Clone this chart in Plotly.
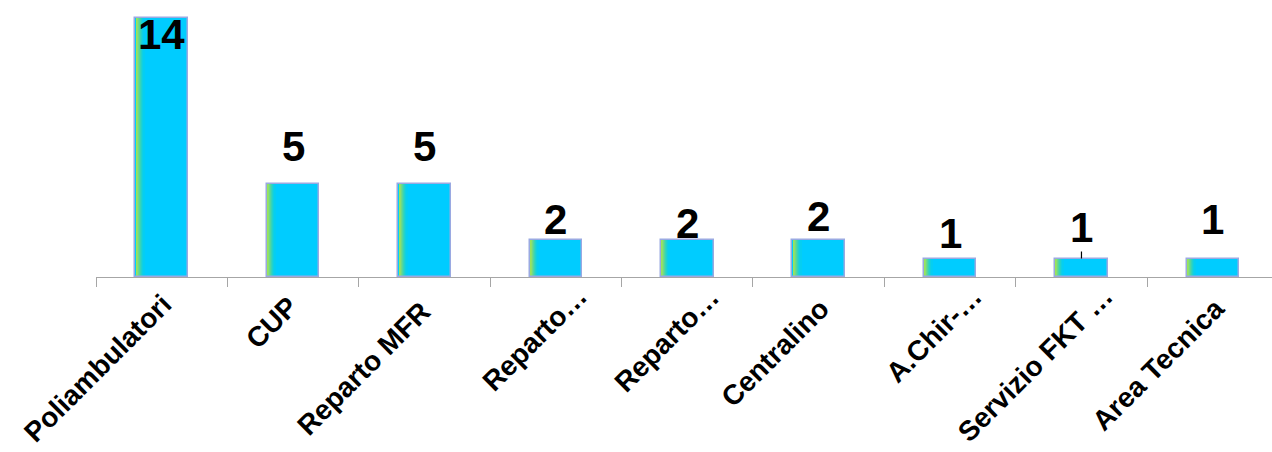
import plotly.graph_objects as go

categories = ["Poliambulatori", "CUP", "Reparto MFR", "Reparto…", "Reparto…",
              "Centralino", "A.Chir-…", "Servizio FKT …", "Area Tecnica"]
values = [14, 5, 5, 2, 2, 2, 1, 1, 1]

# styling: value-label offsets (px above bar top) and leader-line flags
label_offsets = [-17, 38, 38, 20, 16, 23, 25.5, 31, 39]
leader = [False, False, False, False, False, False, False, True, False]
# styling: category-label end position relative to the category centre on the axis (px)
cat_dx = [5, 0, 1.5, 27, 27.5, 5, 27, 26.5, 7]
cat_dy = [24, 25, 31, 15, 16, 28, 15, 16, 27]

x = list(range(len(categories)))
BAR_W = 0.40
CYAN = "#00CCFF"
BORDER = "#9AA9E2"
FONT = "Liberation Sans, Arial"

fig = go.Figure()
# main cyan bars
fig.add_trace(go.Bar(x=x, y=values, width=BAR_W, marker=dict(color=CYAN, line=dict(width=0)),
                     hoverinfo="skip"))
# gradient strips on the left side (green -> cyan)
grad = ["#9BE35A", "#8EE06A", "#6FDA86", "#52D79E", "#38D4B6", "#22D2CC", "#10D0E2", "#05CEF2"]
px_unit = BAR_W / 52.6
for k, c in enumerate(grad):
    fig.add_trace(go.Bar(x=x, y=values, width=px_unit * 1.05,
                         offset=-BAR_W / 2 + px_unit * (0.8 + k),
                         marker=dict(color=c, line=dict(width=0)), hoverinfo="skip"))
# border layer
fig.add_trace(go.Bar(x=x, y=values, width=BAR_W,
                     marker=dict(color="rgba(0,0,0,0)", line=dict(color=BORDER, width=1.5)),
                     hoverinfo="skip"))

for xi, v, off, ld in zip(x, values, label_offsets, leader):
    fig.add_annotation(x=xi, y=v, text=str(v), showarrow=True, ax=0, ay=-off,
                       axref="pixel", ayref="pixel",
                       arrowhead=0, arrowwidth=1.2,
                       arrowcolor="black" if ld else "rgba(0,0,0,0)",
                       standoff=0, startstandoff=0,
                       font=dict(family=FONT, size=42, color="black", weight="bold"),
                       xanchor="center", yanchor="middle", borderpad=0)

# category labels (rotated)
for xi, name, dx, dy in zip(x, categories, cat_dx, cat_dy):
    fig.add_annotation(x=xi, y=0, xref="x", yref="y", text=name, showarrow=False,
                       textangle=-45, xanchor="right", yanchor="top",
                       xshift=dx + 12, yshift=-(dy - 13), borderpad=0,
                       font=dict(family=FONT, size=28, color="black", weight="bold"))

fig.update_layout(
    width=1272, height=452,
    margin=dict(l=96, r=0, t=0, b=175),
    paper_bgcolor="white", plot_bgcolor="white",
    barmode="overlay", showlegend=False, bargap=0,
)
fig.update_xaxes(
    type="category", tickmode="array", tickvals=x, ticktext=categories,
    range=[-0.5, 8.45], showgrid=False, showline=True, linecolor="#A6A6A6", linewidth=1.2,
    ticks="outside", tickson="boundaries", ticklen=9, tickcolor="#A6A6A6", tickwidth=1.2,
    showticklabels=False, automargin=False,
)
fig.update_yaxes(range=[0, 14.97], visible=False, showgrid=False, zeroline=False, automargin=False)

fig.write_html("out.html")
